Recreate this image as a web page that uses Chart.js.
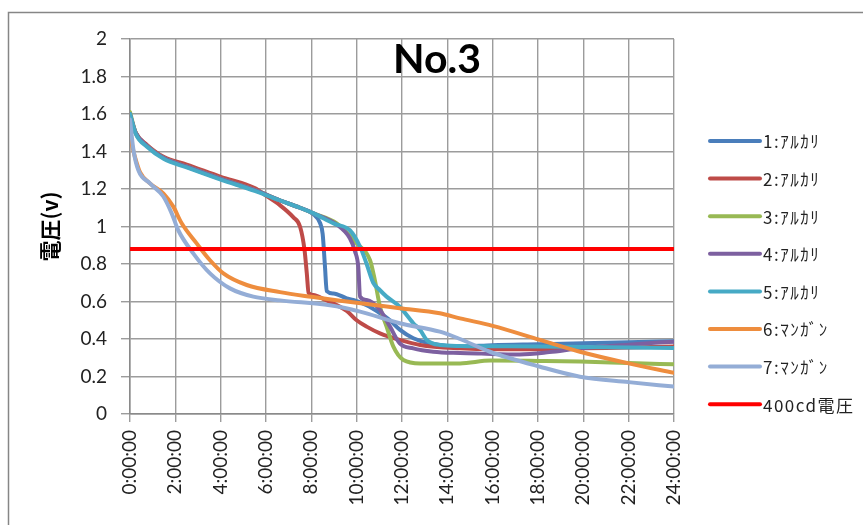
<!DOCTYPE html>
<html>
<head>
<meta charset="utf-8">
<script src="https://cdn.jsdelivr.net/npm/chart.js@4.4.1/dist/chart.umd.min.js"></script>
<style>
html,body{margin:0;padding:0;background:#fff;}
#wrap{width:863px;height:525px;position:relative;}
</style>
</head>
<body>
<div id="wrap"><canvas id="c" width="863" height="525"></canvas></div>
<script>
// ---- data (hours, volts) ----
const chartTitle = 'No.3';
const yAxisTitle = '電圧(v)';
const seriesNames = ['1:ｱﾙｶﾘ','2:ｱﾙｶﾘ','3:ｱﾙｶﾘ','4:ｱﾙｶﾘ','5:ｱﾙｶﾘ','6:ﾏﾝｶﾞﾝ','7:ﾏﾝｶﾞﾝ','400cd電圧'];
const seriesColors = ['#4A7EBB','#BE4B48','#98B954','#7D60A0','#46AAC5','#EE8D3E','#94ADD6','#FF0000'];
const xTickLabels = ['0:00:00','2:00:00','4:00:00','6:00:00','8:00:00','10:00:00','12:00:00','14:00:00','16:00:00','18:00:00','20:00:00','22:00:00','24:00:00'];

const hours1 = [0,0.25,0.75,1.5,2.5,4,5.5,6.6,7.5,8.1,8.38,8.5,8.6,8.68,8.97,9.56,9.85,10.44,11.0,11.47,11.9,12.5,13.2,14.56,16,18,20,22,24];
const volts1 = [1.59,1.50,1.43,1.365,1.32,1.255,1.195,1.14,1.10,1.065,1.02,0.96,0.79,0.655,0.643,0.617,0.608,0.58,0.54,0.50,0.45,0.404,0.377,0.36,0.367,0.372,0.377,0.383,0.388];

const hours2 = [0,0.25,0.75,1.5,2.5,4,5.5,6.0,6.6,7.2,7.5,7.7,7.8,7.88,8.08,8.6,9.56,10.0,10.44,11.03,11.9,12.8,14.56,16,18,20,22,24];
const volts2 = [1.59,1.50,1.435,1.37,1.33,1.265,1.205,1.165,1.115,1.05,1.0,0.875,0.75,0.645,0.635,0.61,0.55,0.50,0.466,0.43,0.395,0.368,0.35,0.345,0.345,0.35,0.355,0.36];

const hours3 = [0,0.25,0.75,1.5,2.5,4,5.5,6.6,7.5,8.1,9.12,10.0,10.59,10.8,11.03,11.32,11.62,12.06,12.8,14.56,15.9,18,19.85,22,24];
const volts3 = [1.61,1.50,1.43,1.365,1.32,1.255,1.195,1.14,1.10,1.07,1.017,0.91,0.82,0.715,0.572,0.466,0.359,0.288,0.27,0.27,0.285,0.283,0.28,0.272,0.265];

const hours4 = [0,0.25,0.75,1.5,2.5,4,5.5,6.6,7.5,8.1,9.12,9.7,9.93,10.07,10.15,10.44,11.03,11.47,11.9,12.5,13.38,14.56,15.5,17.2,18.5,19.85,22,24];
const volts4 = [1.60,1.50,1.43,1.365,1.32,1.255,1.195,1.14,1.10,1.07,1.01,0.937,0.866,0.786,0.626,0.608,0.555,0.466,0.377,0.35,0.332,0.325,0.322,0.318,0.33,0.35,0.37,0.386];

const hours5 = [0,0.25,0.75,1.5,2.5,4,5.5,6.6,7.5,8.1,9.0,9.7,10.15,10.44,10.73,11.03,11.32,11.9,12.5,12.8,13.09,13.67,14.56,18,24];
const volts5 = [1.60,1.495,1.425,1.36,1.315,1.25,1.19,1.14,1.10,1.07,1.015,0.98,0.892,0.80,0.70,0.66,0.626,0.572,0.484,0.448,0.395,0.368,0.363,0.36,0.352];

const hours6 = [0,0.22,0.44,0.88,1.47,1.91,2.28,2.94,3.53,4.12,5.15,6.62,8,9.56,11.9,13.67,14.56,16,18.09,19.85,22,24];
const volts6 = [1.48,1.37,1.29,1.23,1.177,1.106,1.017,0.91,0.82,0.75,0.688,0.65,0.625,0.60,0.564,0.537,0.51,0.47,0.395,0.332,0.27,0.22];

const hours7 = [0,0.15,0.37,0.88,1.47,1.84,2.13,2.79,3.53,4.41,5.44,6.62,8.82,10.15,11.9,13.67,14.56,15.88,18.09,19.85,22,24];
const volts7 = [1.57,1.41,1.30,1.23,1.16,1.07,0.98,0.857,0.75,0.67,0.626,0.606,0.58,0.546,0.484,0.439,0.40,0.332,0.252,0.199,0.17,0.146];

const hours8 = [0,24];
const volts8 = [0.88,0.88];

const allHours = [hours1,hours2,hours3,hours4,hours5,hours6,hours7,hours8];
const allVolts = [volts1,volts2,volts3,volts4,volts5,volts6,volts7,volts8];

const datasets = allHours.map((hs,i)=>({
  label: seriesNames[i],
  data: hs.map((h,j)=>({x:h,y:allVolts[i][j]})),
  borderColor: seriesColors[i],
  backgroundColor: seriesColors[i],
  borderWidth: 4,
  pointRadius: 0,
  pointHoverRadius: 0,
  fill: false,
  cubicInterpolationMode: 'monotone',
  borderCapStyle: 'round',
  borderJoinStyle: 'round',
  order: 20 - i
}));

const decor = {
  id: 'decor',
  beforeDraw(chart){
    const ctx = chart.ctx;
    ctx.save();
    ctx.fillStyle = '#fff';
    ctx.fillRect(0,0,chart.width,chart.height);
    ctx.strokeStyle = '#868686';
    ctx.lineWidth = 1.5;
    ctx.strokeRect(8.5,12.5,1000,700);
    ctx.restore();
  },
  afterDraw(chart){
    const ctx = chart.ctx;
    const a = chart.chartArea;
    ctx.save();
    // title
    ctx.fillStyle = '#000';
    ctx.font = 'bold 41px Lato';
    ctx.textAlign = 'center';
    ctx.textBaseline = 'middle';
    ctx.fillText(chartTitle, a.left + 307, a.top + 21);
    // legend
    ctx.font = '17px "Noto Sans CJK JP"';
    ctx.textAlign = 'left';
    if ('letterSpacing' in ctx) ctx.letterSpacing = '1.5px';
    chart.data.datasets.forEach((ds,i)=>{
      const y = 141 + i*37.6;
      const x0 = a.right + 36;
      ctx.strokeStyle = ds.borderColor;
      ctx.lineWidth = 4;
      ctx.lineCap = 'round';
      ctx.beginPath();
      ctx.moveTo(x0, y);
      ctx.lineTo(x0 + 50, y);
      ctx.stroke();
      ctx.fillStyle = '#222';
      ctx.fillText(ds.label, x0 + 53, y + 1);
    });
    ctx.restore();
  }
};

new Chart(document.getElementById('c'), {
  type: 'line',
  data: { datasets },
  options: {
    responsive: false,
    animation: false,
    events: [],
    layout: { padding: { top: 39, right: 189, bottom: 0, left: 0 } },
    plugins: { legend: { display: false }, title: { display: false }, tooltip: { enabled: false } },
    scales: {
      x: {
        type: 'linear',
        min: 0, max: 24,
        afterFit(scale){ scale.height = 111; },
        ticks: {
          stepSize: 2,
          autoSkip: false,
          maxRotation: 90, minRotation: 90,
          padding: 8,
          color: '#222',
          font: { family: 'Lato', size: 19 },
          callback: (v) => xTickLabels[Math.round(v/2)]
        },
        grid: { color: '#9c9c9c', lineWidth: 1.4, tickLength: 8, tickColor: '#9c9c9c' },
        border: { color: '#8a8a8a', width: 1.5 }
      },
      y: {
        min: 0, max: 2,
        afterFit(scale){ scale.width = 130; },
        ticks: {
          stepSize: 0.2,
          padding: 14,
          color: '#222',
          font: { family: 'Lato', size: 19 },
          callback: (v) => String(Math.round(v*10)/10)
        },
        title: {
          display: true,
          text: yAxisTitle,
          color: '#000',
          font: { family: '"Noto Sans CJK JP"', size: 21, weight: 'bold' },
          padding: { top: 37, bottom: 0 }
        },
        grid: { color: '#9c9c9c', lineWidth: 1.4, tickLength: 9, tickColor: '#9c9c9c' },
        border: { color: '#8a8a8a', width: 1.5 }
      }
    }
  },
  plugins: [decor]
});
</script>
</body>
</html>
